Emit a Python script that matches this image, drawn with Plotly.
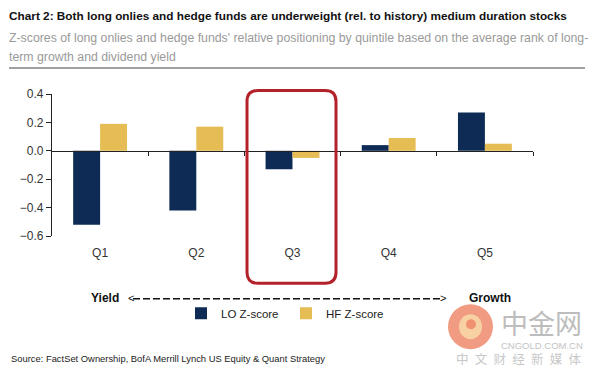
import plotly.graph_objects as go

categories = ["Q1", "Q2", "Q3", "Q4", "Q5"]
lo_zscore = [-0.52, -0.42, -0.13, 0.04, 0.27]
hf_zscore = [0.19, 0.17, -0.05, 0.09, 0.05]
y_ticks = [0.4, 0.2, 0.0, -0.2, -0.4, -0.6]

# the page body has an 8px margin, so the figure is drawn 8px in from the corner
OFF = 8
W, H = 600 - OFF, 373 - OFF
# plot area in page pixels
L, R = 52, 533
T, B = 93.5, 235.7

def px(x):
    return (x - L) / (R - L)

def py(y):
    return (B - y) / (B - T)

ARIAL = "Liberation Sans, Arial, sans-serif"
CJK = "Noto Sans CJK SC, sans-serif"

fig = go.Figure()
fig.add_trace(go.Bar(x=categories, y=lo_zscore, name="LO Z-score",
                     marker=dict(color="#0E2B55", line=dict(width=0))))
fig.add_trace(go.Bar(x=categories, y=hf_zscore, name="HF Z-score",
                     marker=dict(color="#E6BD55", line=dict(width=0))))
# invisible trace carrying the zero-line category axis
fig.add_trace(go.Scatter(x=[-0.5, 4.5], y=[0, 0], xaxis="x2", mode="lines",
                         line=dict(width=0), showlegend=False, hoverinfo="skip"))

# rounded red rectangle around Q3
x0, x1, y0, y1, r = 247, 336, 90, 283, 11
def P(x, y):
    return f"{px(x):.5f},{py(y):.5f}"
path = (f"M {P(x0+r, y0)} L {P(x1-r, y0)} Q {P(x1, y0)} {P(x1, y0+r)} "
        f"L {P(x1, y1-r)} Q {P(x1, y1)} {P(x1-r, y1)} "
        f"L {P(x0+r, y1)} Q {P(x0, y1)} {P(x0, y1-r)} "
        f"L {P(x0, y0+r)} Q {P(x0, y0)} {P(x0+r, y0)} Z")

shapes = [
    dict(type="path", xref="paper", yref="paper", path=path,
         line=dict(color="#B3222A", width=3)),
    dict(type="line", xref="paper", yref="paper", x0=px(9), x1=px(585),
         y0=py(67.5), y1=py(67.5), line=dict(color="#A0A0A0", width=2)),
    # dashed arrow shaft between Yield and Growth
    dict(type="line", xref="paper", yref="paper", x0=px(133), x1=px(442),
         y0=py(298.5), y1=py(298.5), line=dict(color="#111", width=1.4, dash="7px,3px")),
    # watermark logo
    dict(type="circle", xref="paper", yref="paper", x0=px(448), x1=px(493),
         y0=py(304), y1=py(349), fillcolor="#EE8A6C", line=dict(width=0),
         opacity=0.85),
    dict(type="circle", xref="paper", yref="paper", x0=px(459), x1=px(482),
         y0=py(314), y1=py(339), fillcolor="#F8D7A6", line=dict(width=0),
         opacity=0.9),
    dict(type="circle", xref="paper", yref="paper", x0=px(466), x1=px(476),
         y0=py(319), y1=py(329), fillcolor="#EE8A6C", line=dict(width=0),
         opacity=0.9),
]

annotations = [
    dict(text="<b>Chart 2: Both long onlies and hedge funds are underweight (rel. to history) medium duration stocks</b>",
         x=px(7), y=py(15), xanchor="left", yanchor="middle",
         font=dict(family=ARIAL, size=11.8, color="#111")),
    dict(text="Z-scores of long onlies and hedge funds' relative positioning by quintile based on the average rank of long-",
         x=px(7), y=py(37), xanchor="left", yanchor="middle",
         font=dict(family=ARIAL, size=12.3, color="#9A9A9A")),
    dict(text="term growth and dividend yield",
         x=px(7), y=py(56), xanchor="left", yanchor="middle",
         font=dict(family=ARIAL, size=12.3, color="#9A9A9A")),
    dict(text="<b>Yield</b>", x=px(121), y=py(298), xanchor="right", yanchor="middle",
         font=dict(family=ARIAL, size=12, color="#111")),
    dict(text="<", x=px(126), y=py(298), xanchor="left", yanchor="middle",
         font=dict(family=ARIAL, size=11, color="#111")),
    dict(text=">", x=px(448), y=py(298), xanchor="right", yanchor="middle",
         font=dict(family=ARIAL, size=11, color="#111")),
    dict(text="<b>Growth</b>", x=px(467), y=py(298), xanchor="left", yanchor="middle",
         font=dict(family=ARIAL, size=12, color="#111")),
    dict(text="Source: FactSet Ownership, BofA Merrill Lynch US Equity & Quant Strategy",
         x=px(9), y=py(358), xanchor="left", yanchor="middle",
         font=dict(family=ARIAL, size=9.4, color="#222")),
    dict(text="中金网", x=px(541), y=py(322), xanchor="center", yanchor="middle",
         height=28, font=dict(family=CJK, size=27, color="#BDBDBD")),
    dict(text="CNGOLD.COM.CN", x=px(585), y=py(345), xanchor="right", yanchor="middle",
         height=10, font=dict(family=ARIAL, size=9.5, color="#C4C4C4")),
    dict(text="中\u2002文\u2002财\u2002经\u2002新\u2002媒\u2002体", x=px(584), y=py(358),
         xanchor="right", yanchor="middle",
         height=14, font=dict(family=CJK, size=12.5, color="#C8C8C8")),
]
for a in annotations:
    a.update(xref="paper", yref="paper", showarrow=False)

fig.update_layout(
    width=W, height=H,
    margin=dict(l=L - OFF, r=W - (R - OFF), t=T - OFF, b=H - (B - OFF), pad=0),
    paper_bgcolor="white", plot_bgcolor="white",
    barmode="group", bargap=0.44, bargroupgap=0,
    font=dict(family=ARIAL, size=11, color="#333"),
    xaxis=dict(showline=False, ticks="", showgrid=False, zeroline=False,
               tickfont=dict(family=ARIAL, size=12, color="#333"),
               ticklabelstandoff=8),
    xaxis2=dict(overlaying="x", anchor="free", position=py(150.7), range=[-0.5, 4.5],
                showline=True, linecolor="#222", linewidth=1.2, ticks="outside",
                ticklen=4, tickwidth=1.2, tickcolor="#222",
                tickvals=[0.5, 1.5, 2.5, 3.5, 4.5], showticklabels=False,
                showgrid=False, zeroline=False),
    yaxis=dict(range=[-0.6, 0.4], tickvals=y_ticks, tickformat=".1f",
               showline=True, linecolor="#222", linewidth=1.2, ticks="outside",
               ticklen=5, tickwidth=1.2, tickcolor="#222", showgrid=False,
               zeroline=False, tickfont=dict(family=ARIAL, size=12, color="#333")),
    legend=dict(orientation="h", x=px(181), y=py(313), xanchor="left", yanchor="middle",
                font=dict(family=ARIAL, size=11.5, color="#222"),
                entrywidth=60, entrywidthmode="pixels",
                itemwidth=30, traceorder="normal", bgcolor="rgba(0,0,0,0)"),
    shapes=shapes, annotations=annotations,
)

fig.write_html("out.html")
